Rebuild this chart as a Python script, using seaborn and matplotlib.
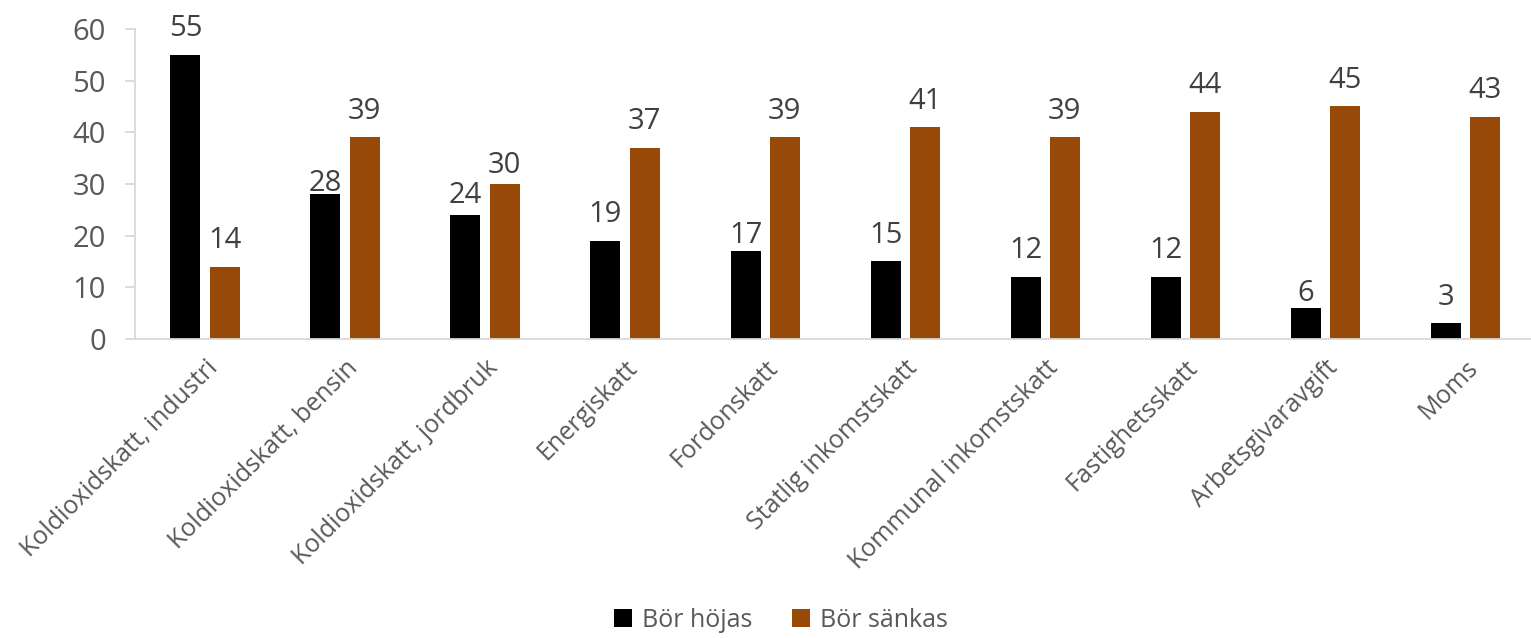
import matplotlib
matplotlib.use("Agg")
import matplotlib.pyplot as plt
import seaborn as sns
import pandas as pd

categories = ["Koldioxidskatt, industri", "Koldioxidskatt, bensin", "Koldioxidskatt, jordbruk",
              "Energiskatt", "Fordonskatt", "Statlig inkomstskatt", "Kommunal inkomstskatt",
              "Fastighetsskatt", "Arbetsgivaravgift", "Moms"]
hojas = [55, 28, 24, 19, 17, 15, 12, 12, 6, 3]
sankas = [14, 39, 30, 37, 39, 41, 39, 44, 45, 43]
series = ["Bör höjas", "Bör sänkas"]
colors = ["#000000", "#974A08"]
yticks = [0, 10, 20, 30, 40, 50, 60]

df = pd.DataFrame({
    "cat": categories * 2,
    "val": hojas + sankas,
    "ser": [series[0]] * len(categories) + [series[1]] * len(categories),
})

sns.set_theme(style="white")
plt.rcParams['font.family'] = ['Open Sans', 'DejaVu Sans']
txt = "#595959"

fig = plt.figure(figsize=(15.31, 6.38), dpi=100)
ax = fig.add_axes([0.0882, 0.469, 0.9118, 0.4855])
sns.barplot(data=df, x="cat", y="val", hue="ser", palette=colors, ax=ax, saturation=1,
            width=0.56, gap=0.235, order=categories, hue_order=series, linewidth=0)

# label paddings (points) mimicking the original's label placement
pads = [
    [8.3, -3.0, 3.2, 8.3, 0.4, 8.3, 8.3, 8.3, -0.4, 8.3],
    [8.3, 8.3, 2.5, 8.3, 8.3, 8.3, 8.3, 8.3, 8.3, 8.3],
]
for cont, prow in zip(ax.containers, pads):
    for bar, v, p in zip(cont, cont.datavalues, prow):
        ax.annotate(f"{int(v)}", xy=(bar.get_x() + bar.get_width() / 2, bar.get_height()),
                    xytext=(0, p), textcoords="offset points", ha="center", va="bottom",
                    fontsize=21, color="#404040")

ax.set_ylim(0, 60)
ax.set_xlim(-0.5, 9.47)
ax.set_yticks(yticks)
ax.set_yticklabels([str(t) for t in yticks], fontsize=21, color=txt)
ax.set_xticks(range(len(categories)))
ax.set_xticklabels(categories, rotation=45, ha="right", va="top", rotation_mode="anchor",
                   fontsize=18, color=txt)
ax.set_xlabel("")
ax.set_ylabel("")
for s in ["top", "right"]:
    ax.spines[s].set_visible(False)
ax.spines["left"].set_color("#d9d9d9")
ax.spines["bottom"].set_color("#d9d9d9")
ax.spines["left"].set_linewidth(1.3)
ax.spines["bottom"].set_linewidth(1.3)
ax.tick_params(axis="y", left=True, length=7, color="#d9d9d9", width=1.3, pad=14)
ax.tick_params(axis="x", bottom=False, pad=6)

leg = ax.legend(loc="center", bbox_to_anchor=(0.51, 0.028), frameon=False,
                ncol=2, fontsize=18, handlelength=0.7, handleheight=0.7, columnspacing=1.6,
                handletextpad=0.4, bbox_transform=fig.transFigure)
for t in leg.get_texts():
    t.set_color(txt)

fig.savefig("out.png", dpi=100)
